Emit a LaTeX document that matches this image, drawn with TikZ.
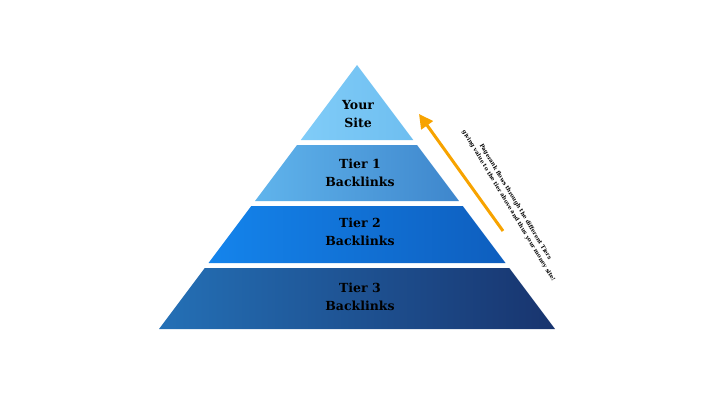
\documentclass[tikz,border=0pt]{standalone}
\usepackage{fontspec}
\setmainfont{DejaVu Serif}
\usetikzlibrary{arrows.meta}
\definecolor{arrowc}{HTML}{F7A300}
\begin{document}
\begin{tikzpicture}[x=1pt,y=-1pt,
  lbl/.style={font=\bfseries\fontsize{12.5}{18}\selectfont,align=center,text=black}]
\useasboundingbox (0,0) rectangle (722,401);
\def\L#1{357-0.75*(#1-65)}
\def\R#1{357+0.75*(#1-65)}
\path[left color={rgb,255:red,128;green,204;blue,248}, right color={rgb,255:red,110;green,190;blue,240}]
  (357,65) -- ({\R{140}},140) -- ({\L{140}},140) -- cycle;
\path[left color={rgb,255:red,96;green,180;blue,236}, right color={rgb,255:red,62;green,134;blue,204}]
  ({\L{145}},145) -- ({\R{145}},145) -- ({\R{201}},201) -- ({\L{201}},201) -- cycle;
\path[left color={rgb,255:red,20;green,132;blue,236}, right color={rgb,255:red,14;green,94;blue,190}]
  ({\L{206}},206) -- ({\R{206}},206) -- ({\R{263}},263) -- ({\L{263}},263) -- cycle;
\path[left color={rgb,255:red,36;green,112;blue,182}, right color={rgb,255:red,24;green,52;blue,110}]
  ({\L{268}},268) -- ({\R{268}},268) -- ({\R{329}},329) -- ({\L{329}},329) -- cycle;
\node[lbl] (t0) at (358,114) {Your\\Site};
\node[lbl] (t1) at (360,173) {Tier 1\\Backlinks};
\node[lbl] (t2) at (360,232) {Tier 2\\Backlinks};
\node[lbl] (t3) at (360,297) {Tier 3\\Backlinks};
\coordinate (a1) at (503,231);
\coordinate (a2) at (419,114);
\draw[arrowc,line width=3pt,-{Triangle[width=14pt,length=14pt]}] (a1) -- (a2);
\node[rotate=-59,font=\bfseries\fontsize{5.6}{8}\selectfont,align=center] (note) at (512,204)
  {Pagerank flows through the different Tiers\\giving value to the tier above and thus your money site!};
\end{tikzpicture}
\end{document}
